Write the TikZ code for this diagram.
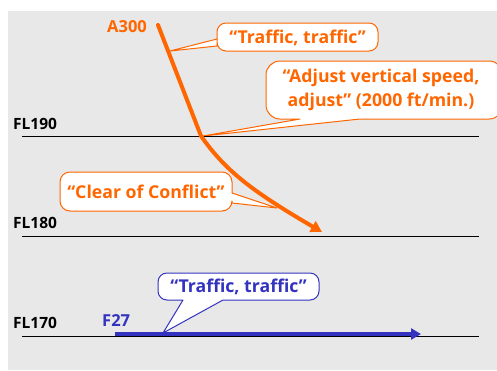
\documentclass[tikz,border=0pt]{standalone}
\usepackage{fontspec}
\setmainfont{Open Sans}
\usetikzlibrary{calc,backgrounds,arrows.meta}
\definecolor{bgray}{HTML}{E8E8E8}
\definecolor{oran}{HTML}{FF6600}
\definecolor{blu}{HTML}{3333C0}
\tikzset{
  lbl/.style={font=\bfseries\fontsize{15.5}{18}\selectfont, inner sep=0pt, anchor=base west},
  otxt/.style={font=\bfseries\fontsize{17.7}{24.5}\selectfont, text=oran, inner sep=0pt, align=center},
  btxt/.style={font=\bfseries\fontsize{17.7}{24.5}\selectfont, text=blu, inner sep=0pt, align=center},
  ocall/.style={draw=oran, fill=white, line width=1pt, line join=round},
  bcall/.style={draw=blu, fill=white, line width=1pt, line join=round},
  flline/.style={draw=black, line width=0.9pt},
  otrack/.style={draw=oran, line width=4pt, line cap=round},
  btrack/.style={draw=blu, line width=3.5pt},
}
\begin{document}
\begin{tikzpicture}[x=1pt,y=-1pt]
\useasboundingbox (0,0) rectangle (497,370);

% flight level lines and labels
\node[lbl] (fl190) at (13,129) {FL190};
\node[lbl] (fl180) at (13,228) {FL180};
\node[lbl] (fl170) at (13,328) {FL170};
\coordinate (l190a) at (22,136.5); \coordinate (l190b) at (479,136.5);
\coordinate (l180a) at (22,236);   \coordinate (l180b) at (479,236);
\coordinate (l170a) at (22,336.5); \coordinate (l170b) at (479,336.5);
\draw[flline] (l190a) -- (l190b);
\draw[flline] (l180a) -- (l180b);
\draw[flline] (l170a) -- (l170b);

% aircraft labels
\node[lbl, text=oran, font=\bfseries\fontsize{16.5}{19}\selectfont] (a300) at (107,32) {A300};
\node[lbl, text=blu, font=\bfseries\fontsize{16.5}{19}\selectfont] (f27) at (102,326) {F27};

% callout texts
\node[otxt] (c1) at (297.5,37.5) {“Traffic, traffic”};
\node[otxt] (c2) at (381,90) {“Adjust vertical speed,\\adjust” (2000 ft/min.)};
\node[otxt] (c3) at (146,191.5) {“Clear of Conflict”};
\node[btxt] (c4) at (238.5,286.5) {“Traffic, traffic”};

% trajectory points
\coordinate (p0) at (158,25);
\coordinate (p1) at (201,136);
\coordinate (p2) at (322,232);
\coordinate (q0) at (115,334);
\coordinate (q1) at (421,334);

% pointer tips
\coordinate (t1) at (170,51);
\coordinate (t2) at (203,136);
\coordinate (t3) at (277,208);
\coordinate (t4) at (163,333);

\begin{pgfonlayer}{background}
\fill[bgray] (8,11) rectangle (497,370);
% callout 1: pointer on west side
\draw[ocall] (217,46) [rounded corners=9pt] -- (217,23) -- (378,23) -- (378,51) -- (217,51) [sharp corners] -- (217,39) -- (t1) -- cycle;
% callout 2: pointer on south side
\draw[ocall] (360,119) [rounded corners=14pt] -- (503,119) -- (503,61) -- (266,61) -- (266,119) [sharp corners] -- (300,119) -- (t2) -- cycle;
% callout 3: pointer on east side
\draw[ocall] (232,193) [rounded corners=10pt] -- (232,172) -- (60,172) -- (60,211) -- (232,211) [sharp corners] -- (232,203) -- (t3) -- cycle;
% callout 4: pointer on south side
\draw[bcall] (223,300) [rounded corners=9pt] -- (319,300) -- (319,273) -- (158,273) -- (158,300) [sharp corners] -- (183,300) -- (t4) -- cycle;
\end{pgfonlayer}

% trajectories
\draw[otrack, -{Triangle[length=11pt,width=12pt]}] (p0) -- (p1) .. controls (225,170) and (250,190) .. (p2);
\draw[btrack, -{Triangle[length=10pt,width=11pt]}] (q0) -- (q1);
\end{tikzpicture}
\end{document}
